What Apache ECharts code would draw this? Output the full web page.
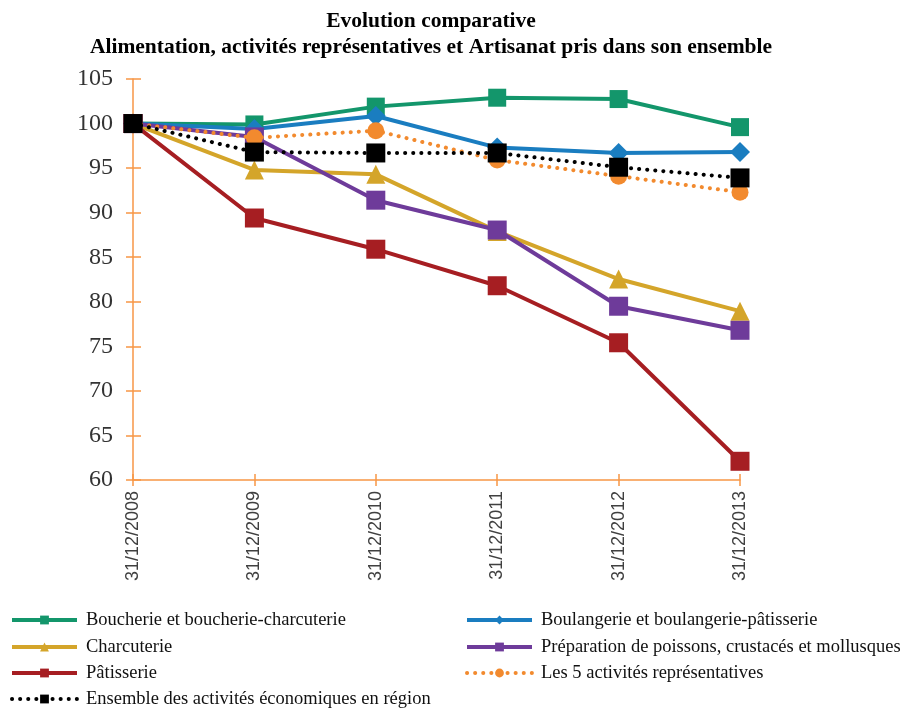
<!DOCTYPE html>
<html><head><meta charset="utf-8">
<script src="https://cdn.jsdelivr.net/npm/echarts@6/dist/echarts.min.js"></script>
<style>html,body{margin:0;padding:0;background:#fff}#c{width:903px;height:709px}</style>
</head><body><div id="c"></div>
<script>
const categories = ['31/12/2008','31/12/2009','31/12/2010','31/12/2011','31/12/2012','31/12/2013'];
const boucherie = [100, 99.9, 101.9, 102.9, 102.75, 99.6];
const boulangerie = [100, 99.4, 100.85, 97.3, 96.7, 96.8];
const charcuterie = [100, 94.8, 94.3, 87.9, 82.55, 78.95];
const poissons = [100, 98.5, 91.4, 88.05, 79.5, 76.8];
const patisserie = [100, 89.4, 85.9, 81.8, 75.4, 62.1];
const cinqActivites = [100, 98.4, 99.2, 95.9, 94.1, 92.3];
const ensemble = [100, 96.8, 96.7, 96.7, 95.1, 93.9];
const names = ['Boucherie et boucherie-charcuterie','Boulangerie et boulangerie-pâtisserie','Charcuterie','Préparation de poissons, crustacés et mollusques','Pâtisserie','Les 5 activités représentatives','Ensemble des activités économiques en région'];
const yTicks = {min:60, max:105, interval:5};

const axisOrange = '#F79646';
const serif = '"Liberation Serif", "DejaVu Serif", serif';
const chart = echarts.init(document.getElementById('c'));

function solid(name, data, color, symbol, size){
  return {name, type:'line', data, color, symbol, symbolSize:size, showSymbol:true,
    lineStyle:{width:4, color}, itemStyle:{color}, z:3, animation:false};
}
function dotted(name, data, color, symbol, size){
  return {name, type:'line', data, color, symbol, symbolSize:size,
    lineStyle:{width:4, color, type:[0.1,8], cap:'round'}, itemStyle:{color}, z:4, animation:false};
}
const series = [
  solid(names[0], boucherie, '#13966B', 'rect', 18),
  solid(names[1], boulangerie, '#1A7DC0', 'diamond', 20),
  solid(names[2], charcuterie, '#D4A52A', 'triangle', 19),
  solid(names[3], poissons, '#6E3B9A', 'rect', 19),
  solid(names[4], patisserie, '#A61E22', 'rect', 19),
  dotted(names[5], cinqActivites, '#F28A2E', 'circle', 17),
  dotted(names[6], ensemble, '#000000', 'rect', 19)
];

const legendPos = [
  {left:10, c:620},{left:465, c:620},
  {left:10, c:647},{left:465, c:647},
  {left:10, c:673},{left:465, c:673},
  {left:10, c:699}
];
const legends = names.map((n,i)=>({
  data:[n], left:legendPos[i].left, top:legendPos[i].c-10, orient:'horizontal',
  itemWidth:65, itemHeight:11, itemGap:10, padding:0, selectedMode:false,
  lineStyle:{width:4},
  textStyle:{fontFamily:serif, fontSize:18.5, lineHeight:20, color:'#111', padding:[0,0,0,4]}
}));

chart.setOption({
  backgroundColor:'#fff',
  animation:false,
  title:{text:'Evolution comparative\nAlimentation, activités représentatives et Artisanat pris dans son ensemble',
    left:426, textAlign:'center', top:3,
    textStyle:{fontFamily:serif, fontSize:21.5, fontWeight:'bold', color:'#000', lineHeight:26}},
  legend:legends,
  grid:{left:133, right:163, top:79, bottom:229, containLabel:false},
  xAxis:[{type:'category', data:categories, boundaryGap:false,
    axisLine:{lineStyle:{color:axisOrange, width:1.5}},
    axisTick:{show:true, length:6, inside:false, lineStyle:{color:axisOrange, width:1.5}},
    axisLabel:{rotate:90, fontFamily:'"Liberation Sans", Arial, sans-serif', fontSize:18, color:'#404040', margin:11},
    splitLine:{show:false}},
   {type:'category', data:categories, boundaryGap:false, position:'bottom',
    axisLine:{show:false}, axisLabel:{show:false},
    axisTick:{show:true, length:6, inside:true, lineStyle:{color:axisOrange, width:1.5}}}],
  yAxis:[{type:'value', min:yTicks.min, max:yTicks.max, interval:yTicks.interval,
    axisLine:{show:true, lineStyle:{color:axisOrange, width:1.5}},
    axisTick:{show:true, length:7, lineStyle:{color:axisOrange, width:1.5}},
    axisLabel:{fontFamily:serif, fontSize:24, color:'#333', margin:20},
    splitLine:{show:false}},
   {type:'value', min:yTicks.min, max:yTicks.max, interval:yTicks.interval, position:'left',
    axisLine:{show:false}, axisLabel:{show:false},
    axisTick:{show:true, length:8, inside:true, lineStyle:{color:axisOrange, width:1.5}},
    splitLine:{show:false}}],
  series
});
</script></body></html>
